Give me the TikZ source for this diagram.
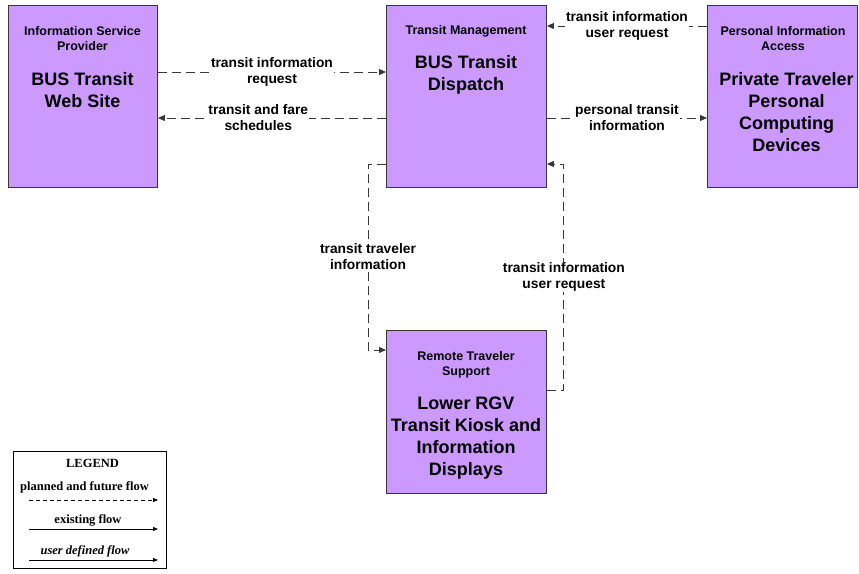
\documentclass[tikz,border=0pt]{standalone}
\usepackage{fontspec}
\setmainfont{Liberation Sans}
\newfontfamily\legendfont{Liberation Serif}
\usetikzlibrary{arrows.meta,calc}
\definecolor{boxfill}{RGB}{204,153,255}
\definecolor{edgegray}{RGB}{55,55,55}
\begin{document}
\begin{tikzpicture}[x=1pt,y=-1pt,
  box/.style={draw=edgegray, line width=0.9pt, fill=boxfill, anchor=north west, inner sep=0pt},
  boxtitle/.style={font=\bfseries\fontsize{12.5}{15}\selectfont, align=center, inner sep=0pt},
  boxname/.style={font=\bfseries\fontsize{18}{21.8}\selectfont, align=center, inner sep=0pt},
  flow/.style={draw=edgegray, line width=0.85pt, dash pattern=on 9pt off 5pt, -{Triangle[length=7pt,width=6pt]}},
  lbl/.style={font=\bfseries\fontsize{13.8}{16}\selectfont, align=center, fill=white, inner sep=1pt},
  lgd/.style={font=\legendfont\bfseries\fontsize{12.5}{14}\selectfont, inner sep=0pt},
  lgdarrow/.style={draw=black, line width=0.8pt, -{Triangle[length=5pt,width=4pt]}},
]
\useasboundingbox (0,0) rectangle (859,573);

% boxes
\node[box, minimum width=149pt, minimum height=182pt] (isp) at (8,5) {};
\node[box, minimum width=160pt, minimum height=182pt] (tm) at (386,5) {};
\node[box, minimum width=150pt, minimum height=182pt] (pia) at (707,5) {};
\node[box, minimum width=160pt, minimum height=163pt] (rts) at (386,330) {};

% box texts
\node[boxtitle] (ispt) at (82.5,38.5) {Information Service\\Provider};
\node[boxname] (ispn) at (82.5,90) {BUS Transit\\Web Site};
\node[boxtitle] (tmt) at (466,31) {Transit Management};
\node[boxname] (tmn) at (466,75) {BUS Transit\\Dispatch};
\node[boxtitle] (piat) at (783,38.5) {Personal Information\\Access};
\node[boxname] (pian) at (786.5,112) {Private Traveler\\Personal\\Computing\\Devices};
\node[boxtitle] (rtst) at (466,365) {Remote Traveler\\Support};
\node[boxname] (rtsn) at (466,438) {Lower RGV\\Transit Kiosk and\\Information\\Displays};

% flows
\draw[flow] ([yshift=-67pt]isp.north east) -- node[lbl] {transit information\\request} ([yshift=-67pt]tm.north west);
\draw[flow] ([yshift=-113pt]tm.north west) -- node[lbl, pos=0.56] {transit and fare\\schedules} ([yshift=-113pt]isp.north east);
\draw[flow] ([yshift=-21pt]pia.north west) -- node[lbl] {transit information\\user request} ([yshift=-21pt]tm.north east);
\draw[flow] ([yshift=-113pt]tm.north east) -- node[lbl] {personal transit\\information} ([yshift=-113pt]pia.north west);
\draw[flow] ([yshift=-159pt]tm.north west) -- ++(-18,0) |- node[lbl, pos=0.25] {transit traveler\\information} ([yshift=-20pt]rts.north west);
\draw[flow] ([yshift=-60pt]rts.north east) -- ++(17,0) |- node[lbl, pos=0.25] {transit information\\user request} ([yshift=-159pt]tm.north east);

% legend
\node[draw=black, line width=0.9pt, anchor=north west, minimum width=153pt, minimum height=117pt, inner sep=0pt] (legend) at (13,451) {};
\node[lgd] (lgdtitle) at (92.5,463) {LEGEND};
\node[lgd] (lgdplanned) at (84.5,487) {planned and future flow};
\node[lgd] (lgdexisting) at (88,520) {existing flow};
\node[lgd, font=\legendfont\bfseries\itshape\fontsize{12.5}{14}\selectfont] (lgduser) at (85,551) {user defined flow};
\coordinate (p1) at (29,500);
\coordinate (p2) at (158,500);
\coordinate (e1) at (29,529);
\coordinate (e2) at (158,529);
\coordinate (u1) at (29,560);
\coordinate (u2) at (158,560);
\draw[lgdarrow, dash pattern=on 4pt off 3pt] (p1) -- (p2);
\draw[lgdarrow] (e1) -- (e2);
\draw[lgdarrow] (u1) -- (u2);
\end{tikzpicture}
\end{document}
